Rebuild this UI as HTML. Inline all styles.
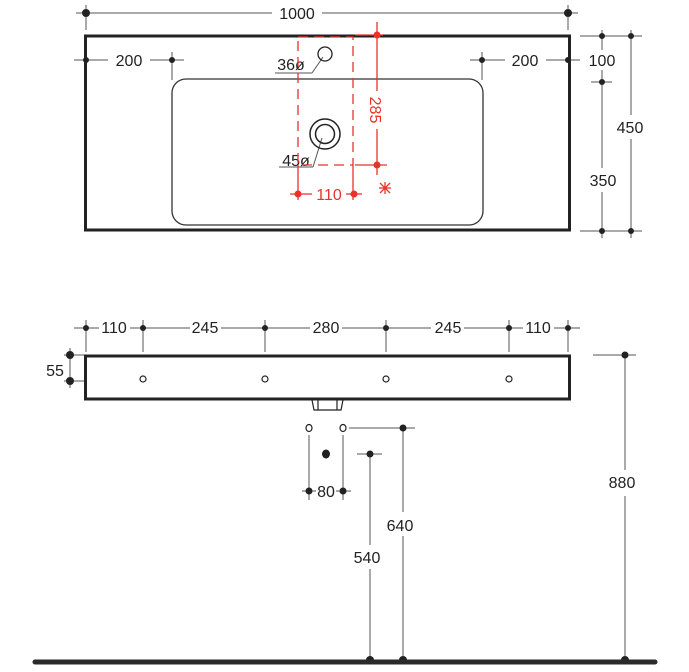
<!DOCTYPE html>
<html><head><meta charset="utf-8"><style>
html,body{margin:0;padding:0;background:#fff;}
svg{display:block;}
text{font-family:"Liberation Sans",sans-serif;font-size:16px;fill:#222;}
</style></head><body>
<svg width="689" height="672" viewBox="0 0 689 672" xmlns="http://www.w3.org/2000/svg">
<g stroke="#555" stroke-width="1" fill="none">
<line x1="76" y1="13" x2="272" y2="13"/><line x1="322" y1="13" x2="578" y2="13"/>
<line x1="86" y1="5" x2="86" y2="30"/><line x1="568" y1="5" x2="568" y2="30"/>
<line x1="74" y1="60" x2="108" y2="60"/><line x1="150" y1="60" x2="184" y2="60"/>
<line x1="172" y1="52" x2="172" y2="80"/>
<line x1="470" y1="60" x2="505" y2="60"/><line x1="546" y1="60" x2="580" y2="60"/>
<line x1="482" y1="52" x2="482" y2="80"/>
<line x1="580" y1="36" x2="642" y2="36"/><line x1="580" y1="231" x2="642" y2="231"/>
<line x1="591" y1="82" x2="612" y2="82"/>
<line x1="602" y1="30" x2="602" y2="50"/><line x1="602" y1="70" x2="602" y2="168"/><line x1="602" y1="192" x2="602" y2="238"/>
<line x1="631" y1="30" x2="631" y2="115"/><line x1="631" y1="139" x2="631" y2="238"/>
<line x1="275" y1="73" x2="312" y2="73"/><line x1="312" y1="73" x2="323" y2="57"/>
<line x1="279" y1="167" x2="313" y2="167"/><line x1="313" y1="167" x2="322" y2="138"/>
</g>
<g fill="#222">
<circle cx="86" cy="13" r="4"/><circle cx="568" cy="13" r="4"/>
<circle cx="86" cy="60" r="3"/><circle cx="172" cy="60" r="3"/>
<circle cx="482" cy="60" r="3"/><circle cx="568" cy="60" r="3"/>
<circle cx="602" cy="36" r="3"/><circle cx="631" cy="36" r="3"/>
<circle cx="602" cy="82" r="3"/>
<circle cx="602" cy="231" r="3"/><circle cx="631" cy="231" r="3"/>
</g>
<text x="297" y="19" text-anchor="middle" font-size="16">1000</text>
<text x="129" y="66" text-anchor="middle">200</text>
<text x="525" y="66" text-anchor="middle">200</text>
<text x="602" y="66" text-anchor="middle">100</text>
<text x="630" y="133" text-anchor="middle">450</text>
<text x="603" y="186" text-anchor="middle">350</text>
<text x="291" y="70" text-anchor="middle">36ø</text>
<text x="296" y="166" text-anchor="middle">45ø</text>
<rect x="85.5" y="36" width="484" height="194" fill="none" stroke="#222" stroke-width="3"/>
<rect x="172" y="79" width="311" height="146" rx="14" fill="none" stroke="#333" stroke-width="1.3"/>
<circle cx="325" cy="54" r="7" fill="none" stroke="#222" stroke-width="1.3"/>
<circle cx="325" cy="134" r="15" fill="none" stroke="#222" stroke-width="1.5"/>
<circle cx="325" cy="134" r="9.5" fill="none" stroke="#222" stroke-width="1.5"/>
<g stroke="#e8332a" fill="none" stroke-width="1.3">
<rect x="298" y="37" width="55" height="128" stroke-dasharray="10,6"/>
<line x1="377" y1="22" x2="377" y2="91"/><line x1="377" y1="129" x2="377" y2="175"/>
<line x1="355" y1="35" x2="383" y2="35"/><line x1="355" y1="165" x2="387" y2="165"/>
<line x1="298" y1="165" x2="298" y2="200"/><line x1="353" y1="165" x2="353" y2="200"/>
<line x1="290" y1="194" x2="312" y2="194"/><line x1="346" y1="194" x2="362" y2="194"/>
<line x1="379" y1="188" x2="391" y2="188"/><line x1="385" y1="182" x2="385" y2="194"/>
<line x1="380" y1="183" x2="390" y2="193"/><line x1="390" y1="183" x2="380" y2="193"/>
</g>
<g fill="#e8332a">
<circle cx="377" cy="35" r="3.5"/><circle cx="377" cy="165" r="3.5"/>
<circle cx="298" cy="194" r="3.5"/><circle cx="354" cy="194" r="3.5"/>
</g>
<text x="329" y="200" text-anchor="middle" font-size="17" style="fill:#e8332a">110</text>
<text transform="translate(370,110) rotate(90)" text-anchor="middle" font-size="17" style="fill:#e8332a">285</text>

<g stroke="#555" stroke-width="1" fill="none">
<line x1="74" y1="328" x2="99" y2="328"/><line x1="130" y1="328" x2="190" y2="328"/>
<line x1="221" y1="328" x2="310" y2="328"/><line x1="342" y1="328" x2="431" y2="328"/>
<line x1="464" y1="328" x2="523" y2="328"/><line x1="554" y1="328" x2="580" y2="328"/>
<line x1="86" y1="320" x2="86" y2="352"/><line x1="143" y1="320" x2="143" y2="352"/>
<line x1="265" y1="320" x2="265" y2="352"/><line x1="386" y1="320" x2="386" y2="352"/>
<line x1="509" y1="320" x2="509" y2="352"/><line x1="568" y1="320" x2="568" y2="352"/>
<line x1="64" y1="355" x2="84" y2="355"/><line x1="64" y1="381" x2="84" y2="381"/>
<line x1="70" y1="348" x2="70" y2="388"/>
<line x1="593" y1="355" x2="636" y2="355"/>
<line x1="625" y1="355" x2="625" y2="470"/><line x1="625" y1="496" x2="625" y2="660"/>
<line x1="349" y1="428" x2="415" y2="428"/><line x1="403" y1="428" x2="403" y2="512"/><line x1="403" y1="536" x2="403" y2="660"/>
<line x1="357" y1="454" x2="382" y2="454"/><line x1="370" y1="454" x2="370" y2="545"/><line x1="370" y1="569" x2="370" y2="660"/>
<line x1="309" y1="435" x2="309" y2="500"/><line x1="343" y1="435" x2="343" y2="500"/>
<line x1="302" y1="491" x2="316" y2="491"/><line x1="336" y1="491" x2="351" y2="491"/>
</g>
<g fill="#222">
<circle cx="86" cy="328" r="3"/><circle cx="143" cy="328" r="3"/><circle cx="265" cy="328" r="3"/>
<circle cx="386" cy="328" r="3"/><circle cx="509" cy="328" r="3"/><circle cx="568" cy="328" r="3"/>
<circle cx="70" cy="355" r="4"/><circle cx="70" cy="381" r="4"/>
<circle cx="625" cy="355" r="3.5"/><circle cx="403" cy="428" r="3.5"/><circle cx="370" cy="454" r="3.5"/>
<circle cx="309" cy="491" r="3.5"/><circle cx="343" cy="491" r="3.5"/>
<ellipse cx="326" cy="454" rx="4" ry="4.5"/>
<circle cx="370" cy="660" r="4"/><circle cx="403" cy="660" r="4"/><circle cx="625" cy="660" r="4"/>
</g>
<text x="114" y="333" text-anchor="middle">110</text>
<text x="205" y="333" text-anchor="middle">245</text>
<text x="326" y="333" text-anchor="middle">280</text>
<text x="448" y="333" text-anchor="middle">245</text>
<text x="538" y="333" text-anchor="middle">110</text>
<text x="55" y="376" text-anchor="middle">55</text>
<text x="622" y="488" text-anchor="middle">880</text>
<text x="400" y="531" text-anchor="middle">640</text>
<text x="367" y="563" text-anchor="middle">540</text>
<text x="326" y="497" text-anchor="middle">80</text>
<rect x="85.5" y="356" width="484" height="43" fill="none" stroke="#222" stroke-width="3"/>
<g fill="none" stroke="#222" stroke-width="1.2">
<circle cx="143" cy="379" r="3"/><circle cx="265" cy="379" r="3"/>
<circle cx="386" cy="379" r="3"/><circle cx="509" cy="379" r="3"/>
<ellipse cx="309" cy="428" rx="3" ry="3.5"/><ellipse cx="343" cy="428" rx="3" ry="3.5"/>
<path d="M312 400 L314 410 L341 410 L343 400"/><line x1="318" y1="400" x2="318" y2="410"/><line x1="337" y1="400" x2="337" y2="410"/>
</g>
<line x1="35" y1="662" x2="655" y2="662" stroke="#2a2a2a" stroke-width="5" stroke-linecap="round"/>
</svg>
</body></html>
